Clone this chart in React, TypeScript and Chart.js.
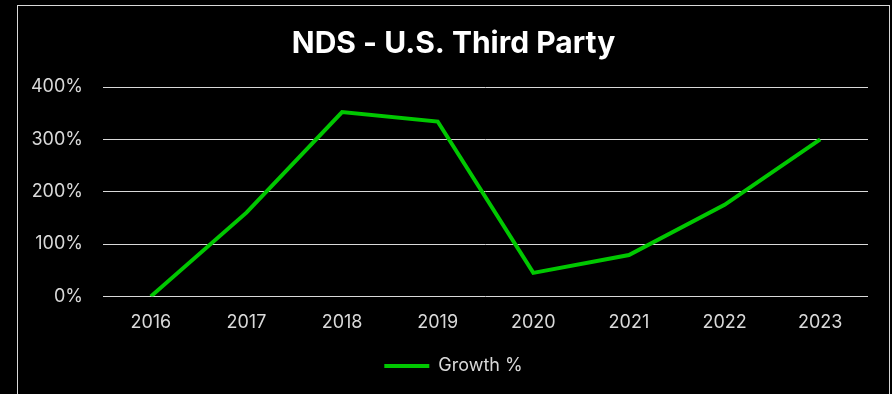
import React, { useEffect, useRef } from "react";
import { Chart, registerables } from "chart.js";

Chart.register(...registerables);

const categories = ["2016", "2017", "2018", "2019", "2020", "2021", "2022", "2023"];
const growthValues = [0, 160, 352, 334, 45, 79, 175, 300];
const seriesLabel = "Growth %";
const chartTitle = "NDS - U.S. Third Party";
const yTicks = [0, 100, 200, 300, 400];

export default function App() {
  const canvasRef = useRef<HTMLCanvasElement | null>(null);

  useEffect(() => {
    document.body.style.margin = "0";
    document.body.style.background = "#000";
    const canvas = canvasRef.current;
    if (!canvas) return;
    const chart = new Chart(canvas, {
      type: "line",
      data: {
        labels: categories,
        datasets: [
          {
            label: seriesLabel,
            data: growthValues,
            borderColor: "#00c800",
            backgroundColor: "#00c800",
            borderWidth: 4,
            pointRadius: 0,
            tension: 0,
          },
        ],
      },
      options: {
        responsive: false,
        animation: false,
        layout: { padding: { left: 0, right: 0, top: 0, bottom: 9 } },
        plugins: {
          title: {
            display: true,
            text: chartTitle,
            color: "#ffffff",
            font: { family: "Inter", size: 30, weight: "bold" },
            padding: { top: 20, bottom: 25 },
          },
          legend: {
            position: "bottom",
            labels: {
              color: "#d9d9d9",
              font: { family: "Inter", size: 18 },
              usePointStyle: true,
              pointStyle: "line",
              pointStyleWidth: 45,
              padding: 17,
            },
          },
          tooltip: { enabled: false },
        },
        scales: {
          x: {
            offset: true,
            grid: { display: false },
            border: { display: false },
            ticks: {
              color: "#d9d9d9",
              font: { family: "Inter", size: 18 },
              padding: 7,
              maxRotation: 0,
            },
          },
          y: {
            min: 0,
            max: 400,
            afterFit: (scale: any) => {
              scale.width = 85;
            },
            afterBuildTicks: (scale: any) => {
              scale.ticks = yTicks.map((v) => ({ value: v }));
            },
            grid: { color: "#d9d9d9", lineWidth: 1, drawTicks: false },
            border: { display: false },
            ticks: {
              color: "#d9d9d9",
              font: { family: "Inter", size: 18 },
              padding: 20,
              callback: (v: any) => `${v}%`,
            },
          },
          yRight: {
            position: "right",
            min: 0,
            max: 400,
            grid: { display: false, drawTicks: false },
            border: { display: false },
            ticks: { display: false },
            afterFit: (scale: any) => {
              scale.width = 21;
            },
          },
        },
      },
    });
    return () => chart.destroy();
  }, []);

  return (
    <div
      style={{
        position: "absolute",
        left: 17,
        top: 5,
        width: 871,
        height: 400,
        border: "1px solid #d9d9d9",
        background: "#000",
      }}
    >
      <canvas ref={canvasRef} width={871} height={388} style={{ display: "block" }} />
    </div>
  );
}
